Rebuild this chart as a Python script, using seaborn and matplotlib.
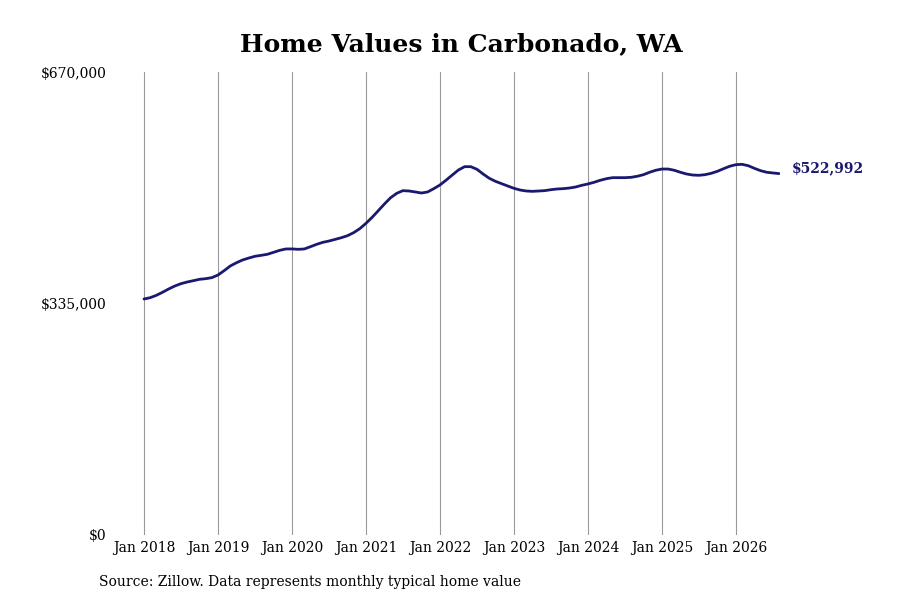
import pandas as pd
import matplotlib.pyplot as plt
import seaborn as sns

# monthly typical home value, Jan 2018 .. Aug 2026
values = [
    341500, 343400, 346800, 351200, 356000, 360300, 363700, 366100, 368000, 370000, 370900, 372400,
    376200, 382500, 389300, 394000, 398000, 400800, 403300, 404700, 406200, 409000, 411900, 413900,
    414000, 413400, 413900, 417200, 420600, 423500, 425400, 427800, 430200, 433100, 437500, 443300,
    451000, 459700, 469300, 479000, 488100, 494500, 498300, 497800, 496400, 494900, 496400, 501200,
    506500, 513500, 520900, 528200, 533000, 533000, 529200, 522400, 516200, 511800, 508400, 505000,
    501700, 499200, 497800, 497300, 497800, 498300, 499700, 500700, 501200, 502100, 503600, 506000,
    508000, 510400, 513300, 515600, 517100, 517100, 517100, 517600, 519100, 521400, 524900, 527800,
    529600, 529600, 527800, 524900, 522400, 520900, 520500, 521400, 523400, 526300, 530100, 533600,
    535900, 536400, 534400, 530600, 527200, 524900, 523900, 522992,
]
years = [2018, 2019, 2020, 2021, 2022, 2023, 2024, 2025, 2026]
y_ticks = [0, 335000, 670000]
y_labels = ["$0", "$335,000", "$670,000"]
end_label = "$522,992"

df = pd.DataFrame({"month": range(len(values)), "value": values})

sns.set_theme(style="white")
plt.rcParams["font.family"] = ["DejaVu Serif"]
plt.rcParams["text.color"] = "black"

fig = plt.figure(figsize=(9, 6), dpi=100)
ax = fig.add_axes([115 / 900, 65 / 600, 665 / 900, 463 / 600])

sns.lineplot(data=df, x="month", y="value", color="#191970", linewidth=2.0, ax=ax)

ax.set_xlim(-4.7, 103.15)
ax.set_ylim(0, 670000)
ax.set_xticks([12 * i for i in range(len(years))])
ax.set_xticklabels([f"Jan {y}" for y in years], fontsize=10, color="black")
ax.set_yticks(y_ticks)
ax.set_yticklabels(y_labels, fontsize=10, color="black")
ax.tick_params(axis="x", length=0, pad=4)
ax.tick_params(axis="y", length=0, pad=6)
ax.xaxis.grid(True, color="#999999", linewidth=0.8)
ax.yaxis.grid(False)
for s in ax.spines.values():
    s.set_visible(False)
ax.set_xlabel("")
ax.set_ylabel("")

ax.annotate(end_label, xy=(df["month"].iloc[-1], values[-1]), xytext=(9, 4),
            textcoords="offset points", fontsize=10, fontweight="bold",
            color="#191970", va="center", ha="left")

fig.text(461 / 900, 1 - 44 / 600, "Home Values in Carbonado, WA", ha="center", va="center",
         fontsize=18, fontweight="bold", color="black")
fig.text(99 / 900, 1 - 582 / 600, "Source: Zillow. Data represents monthly typical home value",
         ha="left", va="center", fontsize=10, color="black")

fig.savefig("out.png", dpi=100)
